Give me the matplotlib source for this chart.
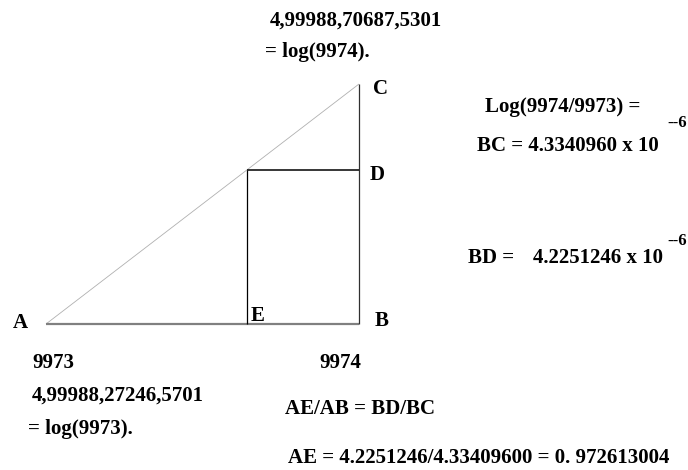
import matplotlib
matplotlib.use("Agg")
import matplotlib.pyplot as plt

# Diagram geometry (pixel-like coordinates, y grows downward)
point_names = ["A", "B", "C", "D", "E"]
point_x = [46, 359, 359, 359, 247]
point_y = [324, 324, 84, 169.5, 324]

# labels of points
label_text = ["A", "B", "C", "D", "E"]
label_x = [13, 375, 373, 370, 251]
label_y = [328, 326, 94, 180, 321]

# annotation texts
notes = [
    "4,99988,70687,5301",
    "= log(9974).",
    "Log(9974/9973) =",
    "BC = 4.3340960 x 10",
    "BD =",
    "4.2251246 x 10",
    "9973",
    "9974",
    "4,99988,27246,5701",
    "AE/AB = BD/BC",
    "= log(9973).",
    "AE = 4.2251246/4.33409600 = 0. 972613004",
]
notes_x = [270, 265, 485, 477, 468, 533, 32, 319, 32, 285, 28, 288]
notes_y = [26, 57, 112, 151, 263, 263, 368, 368, 401, 414, 434, 463]

exps = ["--6", "--6"]
exps_x = [667, 667]
exps_y = [127, 245]

P = {n: (x, y) for n, x, y in zip(point_names, point_x, point_y)}

fig = plt.figure(figsize=(6.88, 4.70), dpi=100)
ax = fig.add_axes([0, 0, 1, 1])
ax.set_xlim(0, 688)
ax.set_ylim(470, 0)
ax.axis("off")

def seg(a, b, **kw):
    ax.plot([a[0], b[0]], [a[1], b[1]], solid_capstyle="butt", **kw)

# hypotenuse A-C
seg(P["A"], P["C"], color="#b0b0b0", lw=0.6)
# base A-B
seg(P["A"], P["B"], color="#808080", lw=1.6)
# vertical B-C
seg(P["B"], P["C"], color="#303030", lw=0.9)
# inner lines: E up to the level of D, then across to D
top_E = (P["E"][0], P["D"][1])
seg(P["E"], top_E, color="#000000", lw=0.9)
seg(top_E, P["D"], color="#000000", lw=1.1)

font = dict(family="Liberation Serif", weight="bold")
for t, x, y in zip(label_text, label_x, label_y):
    ax.text(x, y, t, fontsize=15, ha="left", va="baseline", **font)
for t, x, y in zip(notes, notes_x, notes_y):
    ax.text(x, y, t, fontsize=15, ha="left", va="baseline", **font)
for t, x, y in zip(exps, exps_x, exps_y):
    ax.text(x, y, t, fontsize=12, ha="left", va="baseline", **font)

fig.savefig("out.png", dpi=100, facecolor="white")
